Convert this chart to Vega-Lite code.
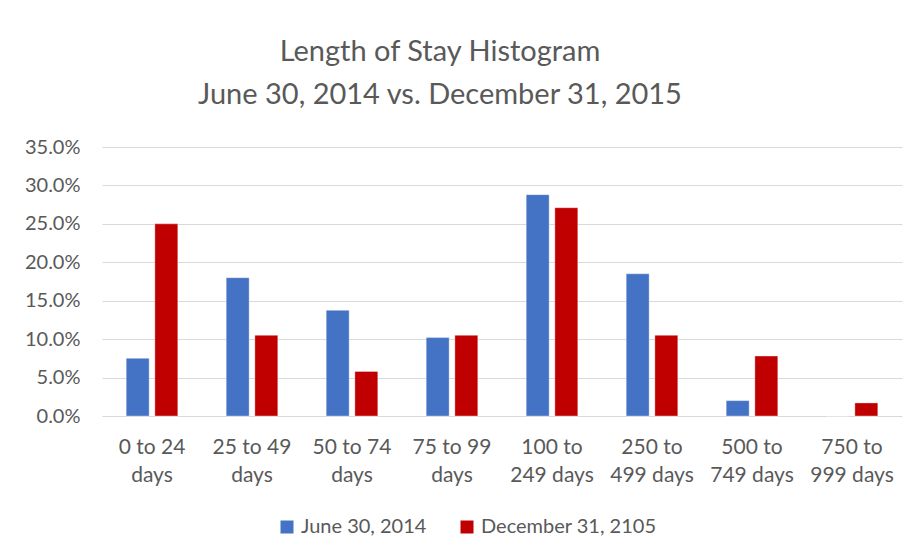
{
  "$schema": "https://vega.github.io/schema/vega-lite/v6.json",
  "width": 800,
  "height": 269,
  "autosize": {"type": "none"},
  "padding": {"left": 102, "top": 147, "right": 15, "bottom": 144},
  "background": "white",
  "title": {
    "text": ["Length of Stay Histogram", "June 30, 2014 vs. December 31, 2015"],
    "anchor": "middle",
    "frame": "group",
    "dx": -62,
    "offset": 27,
    "font": "Lato, sans-serif",
    "fontSize": 29,
    "fontWeight": "normal",
    "color": "#595959",
    "lineHeight": 43
  },
  "data": {
    "values": [
      {"range": "0 to 24 days", "series": "June 30, 2014", "value": 0.075},
      {"range": "0 to 24 days", "series": "December 31, 2105", "value": 0.25},
      {"range": "25 to 49 days", "series": "June 30, 2014", "value": 0.18},
      {"range": "25 to 49 days", "series": "December 31, 2105", "value": 0.105},
      {"range": "50 to 74 days", "series": "June 30, 2014", "value": 0.1375},
      {"range": "50 to 74 days", "series": "December 31, 2105", "value": 0.058},
      {"range": "75 to 99 days", "series": "June 30, 2014", "value": 0.102},
      {"range": "75 to 99 days", "series": "December 31, 2105", "value": 0.105},
      {"range": "100 to 249 days", "series": "June 30, 2014", "value": 0.288},
      {"range": "100 to 249 days", "series": "December 31, 2105", "value": 0.271},
      {"range": "250 to 499 days", "series": "June 30, 2014", "value": 0.185},
      {"range": "250 to 499 days", "series": "December 31, 2105", "value": 0.105},
      {"range": "500 to 749 days", "series": "June 30, 2014", "value": 0.02},
      {"range": "500 to 749 days", "series": "December 31, 2105", "value": 0.078},
      {"range": "750 to 999 days", "series": "June 30, 2014", "value": 0.0},
      {"range": "750 to 999 days", "series": "December 31, 2105", "value": 0.017}
    ]
  },
  "mark": {"type": "bar", "stroke": "#ffffff", "strokeOpacity": 0.35, "strokeWidth": 1},
  "encoding": {
    "x": {
      "field": "range",
      "type": "nominal",
      "sort": null,
      "title": null,
      "scale": {"paddingInner": 0.484, "paddingOuter": 0.242},
      "axis": {
        "labelAngle": 0,
        "domain": false,
        "ticks": false,
        "labelPadding": 20,
        "labelFont": "Lato, sans-serif",
        "labelFontSize": 21,
        "labelColor": "#595959",
        "labelLineHeight": 28,
        "labelExpr": "length(split(datum.value, ' ')[0]) < 3 ? [split(datum.value, ' ')[0] + ' to ' + split(datum.value, ' ')[2], 'days'] : [split(datum.value, ' ')[0] + ' to', split(datum.value, ' ')[2] + ' days']"
      }
    },
    "xOffset": {
      "field": "series",
      "type": "nominal",
      "sort": ["June 30, 2014", "December 31, 2105"],
      "scale": {"paddingInner": 0.2, "paddingOuter": 0}
    },
    "y": {
      "field": "value",
      "type": "quantitative",
      "title": null,
      "scale": {"domain": [0, 0.35]},
      "axis": {
        "values": [0, 0.05, 0.1, 0.15, 0.2, 0.25, 0.3, 0.35],
        "format": ".1%",
        "domain": false,
        "ticks": false,
        "labelPadding": 22,
        "labelFont": "Lato, sans-serif",
        "labelFontSize": 20,
        "labelColor": "#595959",
        "gridColor": "#d9d9d9",
        "gridWidth": 1
      }
    },
    "color": {
      "field": "series",
      "type": "nominal",
      "sort": ["June 30, 2014", "December 31, 2105"],
      "scale": {"domain": ["June 30, 2014", "December 31, 2105"], "range": ["#4472C4", "#C00000"]},
      "legend": {
        "title": null,
        "orient": "none",
        "direction": "horizontal",
        "legendX": 175,
        "legendY": 370,
        "padding": 0,
        "symbolType": "square",
        "symbolSize": 169,
        "symbolStrokeWidth": 0,
        "labelFont": "Lato, sans-serif",
        "labelFontSize": 20,
        "labelColor": "#595959",
        "labelOffset": 4,
        "labelLimit": 0,
        "columnPadding": 30
      }
    }
  },
  "config": {
    "view": {"stroke": null}
  }
}
